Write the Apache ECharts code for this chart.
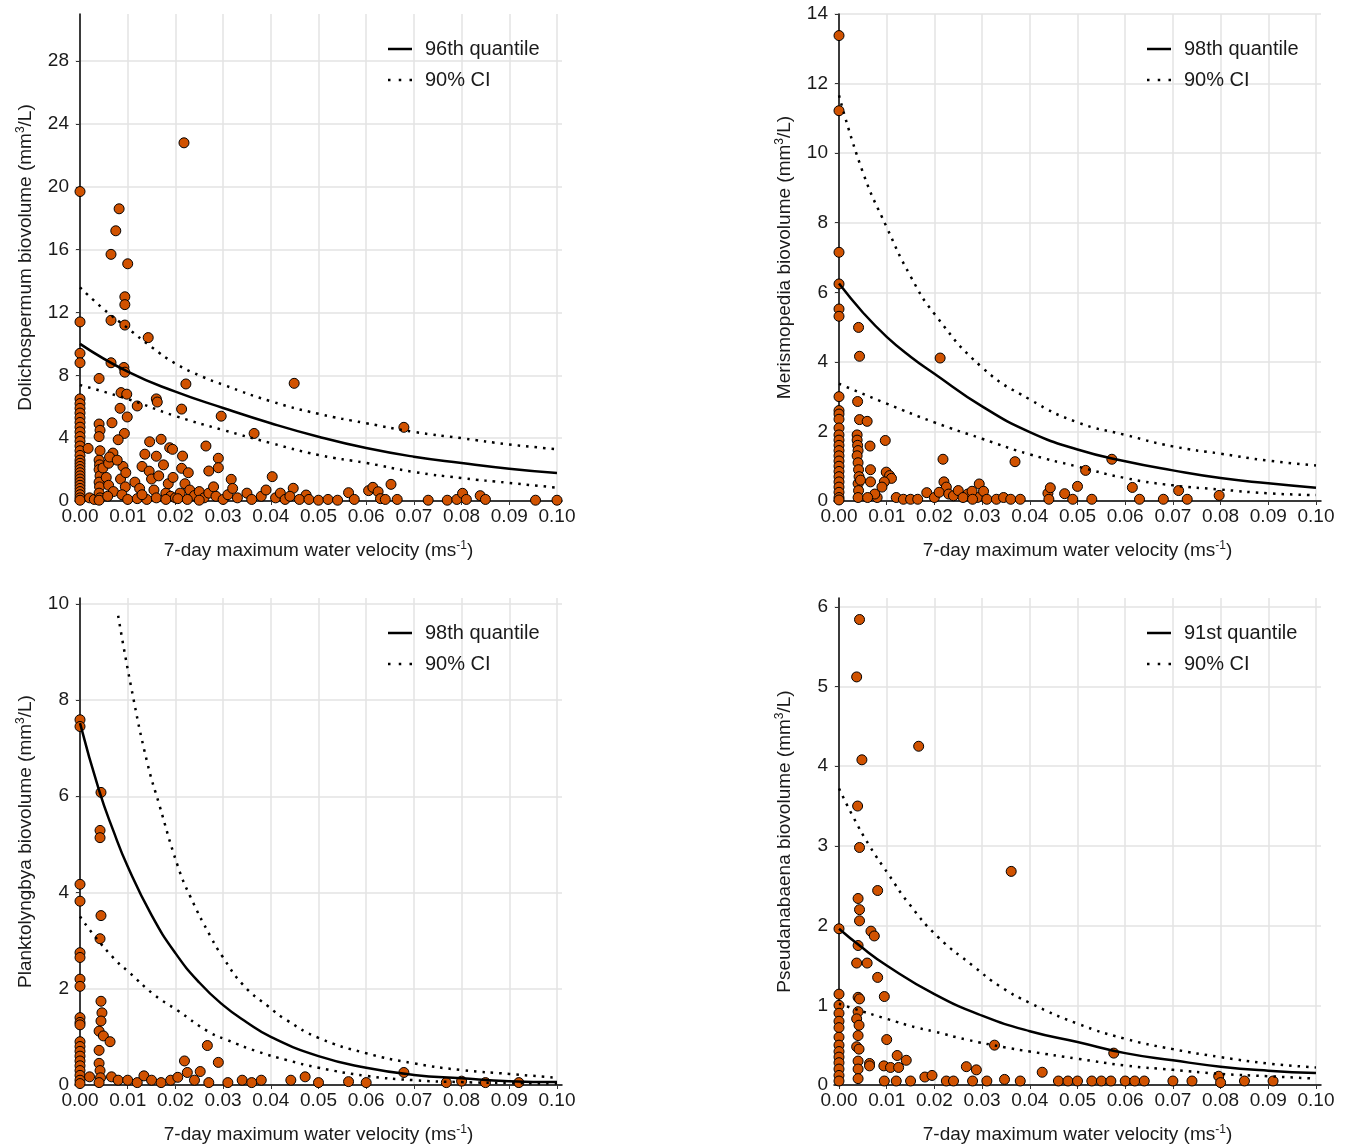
<!DOCTYPE html>
<html>
<head>
<meta charset="utf-8">
<script src="https://cdn.jsdelivr.net/npm/echarts@6/dist/echarts.min.js"></script>
<style>
  html, body { margin: 0; padding: 0; background: #fff; }
  #chart { width: 1347px; height: 1146px; }
</style>
</head>
<body>
<div id="chart"></div>
<script>
// tick values
var xTicks = [0, 0.01, 0.02, 0.03, 0.04, 0.05, 0.06, 0.07, 0.08, 0.09, 0.1];
var dolYTicks = [0, 4, 8, 12, 16, 20, 24, 28];
var merYTicks = [0, 2, 4, 6, 8, 10, 12, 14];
var plaYTicks = [0, 2, 4, 6, 8, 10];
var psYTicks = [0, 1, 2, 3, 4, 5, 6];

// Dolichospermum
var dolPts = [
  [0,19.7],[0,11.4],[0,9.4],[0,8.8],[0,6.5],[0,6.2],[0,5.9],[0,5.6],[0,5.3],[0,5.0],[0,4.7],[0,4.4],[0,4.1],[0,3.8],
  [0,3.5],[0,3.2],[0,2.9],[0,2.6],[0,2.4],[0,2.2],[0,2.0],[0,1.8],[0,1.6],[0,1.4],[0,1.2],[0,1.0],[0,0.8],[0,0.6],[0,0.4],[0,0.2],[0,0.05],
  [0.0017,3.35],[0.002,0.2],[0.003,0.1],
  [0.004,7.8],[0.004,4.9],[0.0042,4.5],[0.004,4.1],[0.0042,3.2],[0.004,2.6],[0.0041,2.3],[0.004,2.0],[0.0042,1.6],[0.004,1.2],[0.0041,0.9],[0.004,0.5],[0.0042,0.2],[0.004,0.05],
  [0.0048,2.1],[0.0055,1.5],[0.006,2.4],[0.0065,15.7],[0.0065,11.5],[0.0065,8.8],[0.0067,4.98],[0.0069,3.05],[0.006,1.0],[0.007,0.6],[0.0062,2.8],[0.0058,0.3],
  [0.0075,17.2],[0.0082,18.6],[0.0094,13.0],[0.0094,12.5],[0.0094,11.2],[0.0092,8.5],[0.0094,8.2],[0.0086,6.9],[0.0098,6.8],[0.0084,5.9],[0.0099,5.35],[0.0093,4.3],
  [0.01,15.1],[0.008,3.9],[0.009,2.2],[0.0085,1.4],[0.0095,0.9],[0.0088,0.4],[0.01,0.1],[0.0078,2.6],[0.0096,1.8],
  [0.012,6.05],[0.0143,10.4],[0.0136,2.98],[0.0146,3.77],[0.016,6.5],[0.0162,6.3],[0.016,2.85],[0.017,3.93],[0.0188,3.39],[0.0194,3.29],
  [0.0115,1.2],[0.0125,0.8],[0.013,2.2],[0.0145,1.9],[0.015,1.4],[0.0155,0.7],[0.0165,1.6],[0.0175,2.3],[0.018,0.5],[0.0185,1.1],[0.019,0.3],
  [0.012,0.15],[0.014,0.1],[0.016,0.2],[0.018,0.1],[0.02,0.2],[0.0195,1.5],[0.013,0.4],
  [0.0218,22.8],[0.0222,7.45],[0.0213,5.85],[0.0215,2.86],[0.0213,2.08],[0.0227,1.8],[0.0296,5.4],[0.029,2.72],[0.029,2.12],[0.027,1.91],[0.0264,3.5],
  [0.022,1.1],[0.023,0.7],[0.024,0.35],[0.025,0.6],[0.026,0.2],[0.027,0.5],[0.028,0.9],[0.0285,0.3],[0.021,0.5],[0.0205,0.15],[0.0225,0.1],[0.025,0.05],[0.03,0.1],
  [0.0317,1.38],[0.0365,4.3],[0.0403,1.55],[0.031,0.4],[0.032,0.8],[0.033,0.2],[0.035,0.5],[0.036,0.1],[0.038,0.3],[0.039,0.7],[0.041,0.2],[0.042,0.5],[0.043,0.1],
  [0.0449,7.49],[0.0447,0.81],[0.044,0.3],[0.0474,0.38],[0.046,0.1],[0.048,0.1],[0.05,0.05],[0.052,0.1],[0.054,0.05],[0.0563,0.53],[0.0575,0.1],
  [0.0605,0.66],[0.0614,0.87],[0.0625,0.59],[0.063,0.15],[0.0652,1.06],[0.064,0.1],[0.0665,0.1],[0.0679,4.69],[0.073,0.05],[0.077,0.05],[0.079,0.1],
  [0.0802,0.49],[0.081,0.1],[0.0839,0.34],[0.085,0.1],[0.0955,0.05],[0.1,0.05]
];
var dolQ = [[0,10.0],[0.01,8.23],[0.02,6.96],[0.03,5.92],[0.04,4.95],[0.05,4.09],[0.06,3.37],[0.07,2.82],[0.08,2.42],[0.09,2.06],[0.1,1.78]];
var dolUp = [[0,13.6],[0.005,12.2],[0.01,11.0],[0.015,9.8],[0.02,8.75],[0.025,8.0],[0.03,7.4],[0.04,6.35],[0.05,5.55],[0.06,4.95],[0.07,4.4],[0.08,4.0],[0.09,3.6],[0.1,3.3]];
var dolLo = [[0,7.38],[0.01,6.49],[0.02,5.41],[0.03,4.52],[0.04,3.69],[0.05,2.93],[0.06,2.42],[0.07,1.85],[0.08,1.46],[0.09,1.15],[0.1,0.85]];

// Merismopedia
var merPts = [
  [0,13.38],[0,11.22],[0,7.15],[0,6.24],[0,5.52],[0,5.31],[0,3.0],[0,2.6],[0,2.5],[0,2.35],[0,2.1],[0,1.9],[0,1.75],[0,1.6],[0,1.45],
  [0,1.3],[0,1.15],[0,1.0],[0,0.85],[0,0.7],[0,0.55],[0,0.4],[0,0.25],[0,0.1],[0,0.03],
  [0.0041,4.99],[0.0043,4.16],[0.0039,2.86],[0.0043,2.34],[0.0038,1.9],[0.0038,1.75],[0.0039,1.6],[0.004,1.45],[0.0038,1.3],[0.004,1.1],
  [0.0041,0.9],[0.0042,0.7],[0.004,0.5],[0.0041,0.3],[0.004,0.1],[0.0045,0.6],
  [0.0059,2.29],[0.0065,1.58],[0.0066,0.9],[0.0066,0.55],[0.0097,1.74],[0.0099,0.83],[0.0106,0.73],[0.011,0.65],[0.0095,0.55],[0.009,0.4],
  [0.008,0.1],[0.0075,0.2],[0.006,0.1],[0.012,0.1],[0.0135,0.05],[0.015,0.05],[0.0165,0.05],[0.0184,0.24],[0.02,0.1],
  [0.0212,4.11],[0.0218,1.2],[0.022,0.55],[0.0225,0.4],[0.021,0.25],[0.023,0.2],[0.024,0.15],[0.025,0.3],[0.027,0.2],[0.029,0.1],
  [0.0279,0.28],[0.0294,0.49],[0.0303,0.28],[0.026,0.1],[0.028,0.05],[0.031,0.05],[0.033,0.05],[0.0345,0.1],[0.0369,1.13],[0.036,0.05],[0.038,0.05],
  [0.0438,0.22],[0.0443,0.38],[0.0473,0.21],[0.05,0.42],[0.0517,0.88],[0.0572,1.2],[0.0615,0.39],[0.0712,0.30],[0.0797,0.16],
  [0.044,0.05],[0.049,0.05],[0.053,0.05],[0.063,0.05],[0.068,0.05],[0.073,0.05]
];
var merQ = [[0,6.25],[0.005,5.42],[0.01,4.72],[0.015,4.15],[0.02,3.66],[0.03,2.72],[0.04,1.98],[0.05,1.48],[0.06,1.14],[0.07,0.88],[0.08,0.66],[0.09,0.51],[0.1,0.38]];
var merUp = [[0,11.66],[0.005,9.45],[0.01,7.87],[0.015,6.46],[0.02,5.38],[0.03,3.84],[0.04,2.92],[0.05,2.26],[0.06,1.90],[0.07,1.57],[0.08,1.36],[0.09,1.16],[0.1,1.02]];
var merLo = [[0,3.37],[0.01,2.80],[0.02,2.26],[0.03,1.79],[0.04,1.34],[0.05,0.99],[0.06,0.66],[0.07,0.45],[0.08,0.33],[0.09,0.22],[0.1,0.17]];

// Planktolyngbya
var plaPts = [
  [0,7.59],[0,7.45],[0,4.17],[0,3.82],[0,2.75],[0,2.65],[0,2.2],[0,2.05],[0,1.4],[0,1.3],[0,1.25],[0,0.9],[0,0.8],[0,0.7],[0,0.6],
  [0,0.5],[0,0.4],[0,0.3],[0,0.2],[0,0.1],[0,0.03],
  [0.0044,6.08],[0.0042,5.29],[0.0042,5.14],[0.0044,3.52],[0.0042,3.04],[0.0044,1.74],[0.0046,1.5],[0.0044,1.33],[0.004,1.12],[0.0049,1.02],
  [0.0063,0.9],[0.004,0.72],[0.004,0.45],[0.0042,0.3],[0.0043,0.15],[0.004,0.05],
  [0.002,0.17],[0.0066,0.17],[0.008,0.1],[0.01,0.1],[0.012,0.05],[0.0134,0.19],[0.015,0.1],[0.017,0.05],[0.019,0.1],[0.0205,0.16],
  [0.0219,0.5],[0.0225,0.26],[0.0252,0.28],[0.0267,0.82],[0.029,0.47],[0.024,0.1],[0.027,0.05],[0.031,0.05],[0.034,0.1],[0.036,0.05],
  [0.038,0.1],[0.0442,0.1],[0.0472,0.17],[0.05,0.05],[0.0563,0.07],[0.06,0.05],[0.0679,0.26],[0.0768,0.05],[0.08,0.08],[0.085,0.05],[0.092,0.05]
];
var plaQ = [[0,7.52],[0.004,6.12],[0.007,5.28],[0.01,4.54],[0.015,3.53],[0.02,2.74],[0.025,2.13],[0.03,1.66],[0.035,1.3],[0.04,1.0],[0.05,0.6],[0.06,0.36],[0.07,0.21],[0.08,0.14],[0.09,0.08],[0.1,0.06]];
var plaUp = [[0.008,9.75],[0.0108,8.23],[0.0141,6.7],[0.0166,5.83],[0.0205,4.55],[0.0231,3.92],[0.0275,3.06],[0.0298,2.68],[0.0342,2.08],[0.0395,1.63],[0.0433,1.35],[0.05,0.98],[0.06,0.66],[0.07,0.45],[0.08,0.31],[0.09,0.23],[0.1,0.15]];
var plaLo = [[0,3.5],[0.0031,3.09],[0.0077,2.57],[0.0101,2.36],[0.0156,1.87],[0.0203,1.56],[0.0269,1.11],[0.0307,0.94],[0.0374,0.69],[0.0433,0.52],[0.05,0.36],[0.06,0.19],[0.07,0.10],[0.08,0.06],[0.09,0.04],[0.1,0.03]];

// Pseudanabaena
var psPts = [
  [0,1.96],[0,1.14],[0,1.0],[0,0.9],[0,0.8],[0,0.72],[0,0.6],[0,0.5],[0,0.42],[0,0.35],[0,0.28],[0,0.2],[0,0.12],[0,0.05],
  [0.0043,5.84],[0.0037,5.12],[0.0048,4.08],[0.0039,3.5],[0.0043,2.98],[0.004,2.34],[0.0043,2.2],[0.0043,2.06],[0.004,1.75],[0.0037,1.53],
  [0.004,1.1],[0.0043,1.08],[0.004,0.92],[0.0037,0.83],[0.0042,0.75],[0.004,0.62],[0.0037,0.48],[0.0042,0.45],[0.004,0.3],[0.004,0.2],[0.004,0.08],
  [0.0167,4.25],[0.0361,2.68],[0.0081,2.44],[0.0067,1.93],[0.0074,1.87],[0.0059,1.53],[0.0081,1.35],[0.0095,1.11],[0.01,0.57],[0.0326,0.5],
  [0.0122,0.37],[0.0141,0.31],[0.0064,0.27],[0.0064,0.24],[0.0094,0.24],[0.0108,0.22],[0.0125,0.22],[0.0267,0.23],[0.0288,0.19],
  [0.0426,0.16],[0.0576,0.40],[0.0796,0.11],[0.0347,0.07],[0.0095,0.05],[0.012,0.05],[0.015,0.05],[0.018,0.1],[0.0195,0.12],[0.0225,0.05],
  [0.024,0.05],[0.028,0.05],[0.031,0.05],[0.038,0.05],[0.046,0.05],[0.048,0.05],[0.05,0.05],[0.053,0.05],[0.055,0.05],[0.057,0.05],
  [0.06,0.05],[0.062,0.05],[0.064,0.05],[0.07,0.05],[0.074,0.05],[0.08,0.03],[0.085,0.05],[0.091,0.05]
];
var psQ = [[0,1.96],[0.0047,1.73],[0.01,1.50],[0.02,1.14],[0.03,0.87],[0.04,0.675],[0.05,0.54],[0.06,0.40],[0.07,0.31],[0.08,0.23],[0.09,0.18],[0.1,0.15]];
var psUp = [[0,3.72],[0.003,3.36],[0.0064,3.0],[0.0104,2.64],[0.0146,2.28],[0.0207,1.86],[0.0282,1.49],[0.0337,1.24],[0.04,1.03],[0.05,0.77],[0.06,0.58],[0.07,0.45],[0.08,0.35],[0.09,0.27],[0.1,0.22]];
var psLo = [[0,1.02],[0.003,0.96],[0.01,0.83],[0.0163,0.72],[0.02,0.67],[0.0267,0.57],[0.035,0.47],[0.04,0.42],[0.05,0.33],[0.06,0.245],[0.07,0.19],[0.08,0.14],[0.09,0.11],[0.1,0.08]];

var FONT = "Liberation Sans, Arial, sans-serif";
var TXT = "#1a1a1a";
var SOLID_ICON = "path://M0,0h24v2.5h-24z";
var DOT_ICON = "path://M0,0h2.5v2.5h-2.5z M10.75,0h2.5v2.5h-2.5z M21.5,0h2.5v2.5h-2.5z";

var panels = [
  { left: 75, top: 14, yMax: 31, yTicks: dolYTicks, title: "Dolichospermum biovolume (mm{sup|3}/L)", qName: "96th quantile", pts: dolPts, q: dolQ, up: dolUp, lo: dolLo },
  { left: 834, top: 14, yMax: 14, yTicks: merYTicks, title: "Merismopedia biovolume (mm{sup|3}/L)", qName: "98th quantile", pts: merPts, q: merQ, up: merUp, lo: merLo },
  { left: 75, top: 598, yMax: 10.12, yTicks: plaYTicks, title: "Planktolyngbya biovolume (mm{sup|3}/L)", qName: "98th quantile", pts: plaPts, q: plaQ, up: plaUp, lo: plaLo },
  { left: 834, top: 598, yMax: 6.11, yTicks: psYTicks, title: "Pseudanabaena biovolume (mm{sup|3}/L)", qName: "91st quantile", pts: psPts, q: psQ, up: psUp, lo: psLo }
];

var rich = { sup: { fontSize: 12, fontFamily: FONT, color: TXT, padding: [0, 0, 10, 0] } };

var option = { animation: false, grid: [], xAxis: [], yAxis: [], series: [], legend: [] };

panels.forEach(function (p, i) {
  option.grid.push({ left: p.left, top: p.top, width: 487, height: 487 });
  option.xAxis.push({
    type: "value", gridIndex: i, min: -0.00105, max: 0.10105,
    name: "7-day maximum water velocity (ms{sup|-1})", nameLocation: "middle", nameGap: 39,
    nameTextStyle: { fontSize: 19, fontFamily: FONT, color: TXT, rich: rich },
    axisLine: { show: true, onZero: false, lineStyle: { color: "#000", width: 1.5 } },
    axisTick: { show: true, length: 4, customValues: xTicks, lineStyle: { color: "#333" } },
    axisLabel: { customValues: xTicks, fontSize: 19, fontFamily: FONT, color: TXT, margin: 6,
      formatter: function (v) { return v.toFixed(2); } },
    splitLine: { show: true, lineStyle: { color: "#e3e3e3", width: 1.5 } }
  });
  option.yAxis.push({
    type: "value", gridIndex: i, min: 0, max: p.yMax,
    name: p.title, nameLocation: "middle", nameGap: 38,
    nameTextStyle: { fontSize: 19, fontFamily: FONT, color: TXT, rich: rich },
    axisLine: { show: true, lineStyle: { color: "#000", width: 1.5 } },
    axisTick: { show: true, length: 4, customValues: p.yTicks, lineStyle: { color: "#333" } },
    axisLabel: { customValues: p.yTicks, fontSize: 19, fontFamily: FONT, color: TXT, margin: 6 },
    splitLine: { show: true, lineStyle: { color: "#e3e3e3", width: 1.5 } }
  });
  option.series.push({
    type: "scatter", xAxisIndex: i, yAxisIndex: i, data: p.pts, symbolSize: 10, z: 2,
    itemStyle: { color: "#d15200", borderColor: "#000", borderWidth: 1, opacity: 1 }
  });
  option.series.push({
    name: p.qName, type: "line", xAxisIndex: i, yAxisIndex: i, data: p.q, smooth: 0.5,
    symbol: "none", z: 3, lineStyle: { color: "#000", width: 2.5 }, itemStyle: { color: "#000" }
  });
  [p.up, p.lo].forEach(function (ci) {
    option.series.push({
      name: "90% CI", type: "line", xAxisIndex: i, yAxisIndex: i, data: ci, smooth: 0.5,
      symbol: "none", z: 3, lineStyle: { color: "#000", width: 2.5, type: [2.5, 6] }, itemStyle: { color: "#000" }
    });
  });
  option.legend.push({
    left: p.left + 313, top: p.top + 25, orient: "vertical", itemGap: 11, padding: 0,
    itemWidth: 24, itemHeight: 2.5, selectedMode: false,
    data: [{ name: p.qName, icon: SOLID_ICON }, { name: "90% CI", icon: DOT_ICON }],
    itemStyle: { color: "#000" },
    textStyle: { fontSize: 20, fontFamily: FONT, color: TXT, padding: [0, 0, 0, 8] }
  });
});

var chart = echarts.init(document.getElementById("chart"), null, { renderer: "canvas" });
chart.setOption(option);
</script>
</body>
</html>
